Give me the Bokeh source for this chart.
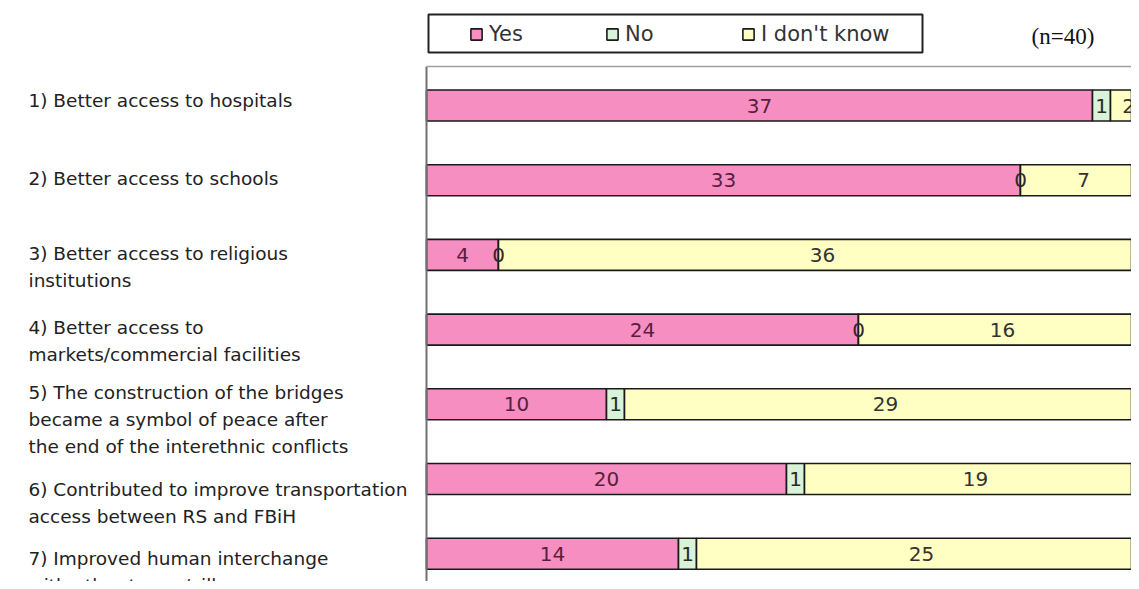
from bokeh.plotting import figure
from bokeh.models import Range1d, ColumnDataSource, Label, Legend, LegendItem
from bokeh.embed import file_html
from bokeh.resources import INLINE
from bokeh.core.properties import value

# ---------------- data ----------------
categories = [
    "1) Better access to hospitals",
    "2) Better access to schools",
    "3) Better access to religious\ninstitutions",
    "4) Better access to\nmarkets/commercial facilities",
    "5) The construction of the bridges\nbecame a symbol of peace after\nthe end of the interethnic conflicts",
    "6) Contributed to improve transportation\naccess between RS and FBiH",
    "7) Improved human interchange\nwith other towns/villages",
]
yes = [37, 33, 4, 24, 10, 20, 14]
no = [1, 0, 0, 0, 1, 1, 1]
dont_know = [2, 7, 36, 16, 29, 19, 25]
series_names = ["Yes", "No", "I don't know"]
sample_note = "(n=40)"

# ---------------- style / layout ----------------
colors = ["#F78EC2", "#D8F3D8", "#FFFFC4"]
text_colors = ["#5A1E3C", "#2A2A2A", "#333333"]
W, H = 1131, 581
AREA_LEFT, AREA_TOP = 426, 66     # px position of the plot area (bars region)
PX_X = 18.0                       # pixels per answer
PX_Y = 74.7                       # pixels per category row
FIRST_ROW = 105                   # px of first bar centre
label_first_line_offset = [-5, -2, -1, -2, -12, 10, 5]  # px, per category label
label_line_gap = 27
label_left_px = 28
LEGEND_BOX = (428, 922, 14, 52)   # left, right, top, bottom in px

x_start = -AREA_LEFT / PX_X
x_end = (W - AREA_LEFT) / PX_X
y_top = 1 - FIRST_ROW / PX_Y
y_bottom = y_top + H / PX_Y
area_top = y_top + AREA_TOP / PX_Y


def px_to_x(px):
    return x_start + px / PX_X


def px_to_y(py):
    return y_top + py / PX_Y


p = figure(width=W, height=H, output_backend="svg", toolbar_location=None,
           x_range=Range1d(x_start, x_end), y_range=Range1d(y_bottom, y_top),
           x_axis_location=None, y_axis_location=None,
           min_border=0)
p.outline_line_color = None
p.grid.visible = False
p.background_fill_color = "white"
p.border_fill_color = "white"

rows = list(range(1, len(categories) + 1))
series = [yes, no, dont_know]
renderers = []
text_sources = []
starts = [0] * len(rows)
for name, vals, col in zip(series_names, series, colors):
    lefts = starts
    rights = [a + b for a, b in zip(lefts, vals)]
    src = ColumnDataSource(dict(y=rows, left=lefts, right=rights,
                                cx=[(a + b) / 2 for a, b in zip(lefts, rights)],
                                txt=[str(v) for v in vals]))
    r = p.hbar(y="y", left="left", right="right", height=0.415, source=src,
               fill_color=col, line_color="#1A1A1A", line_width=1.6)
    renderers.append(r)
    text_sources.append(src)
    starts = rights

for src, tcol in zip(text_sources, text_colors):
    p.text(x="cx", y="y", text="txt", source=src, text_align="center",
           text_baseline="middle", text_font=value("DejaVu Sans"),
           text_font_size="20px", text_color=tcol)

# plot-area borders (left and top)
p.segment(x0=[0], y0=[area_top], x1=[0], y1=[y_bottom], line_color="#707070", line_width=2)
p.segment(x0=[0], y0=[area_top], x1=[x_end], y1=[area_top], line_color="#A0A0A0", line_width=1.5)

# category labels
lx = px_to_x(label_left_px)
for i, (cat, off) in enumerate(zip(categories, label_first_line_offset)):
    for k, line in enumerate(cat.split("\n")):
        p.add_layout(Label(x=lx, y=rows[i] + (off + k * label_line_gap) / PX_Y, text=line,
                           text_font="DejaVu Sans", text_font_size="18.5px",
                           text_color="#222222", text_align="left", text_baseline="middle"))

# legend frame
bl, br, bt, bb = LEGEND_BOX
p.quad(left=[px_to_x(bl)], right=[px_to_x(br)], top=[px_to_y(bt)], bottom=[px_to_y(bb)],
       fill_color="white", line_color="#222222", line_width=2)

# legend
legend = Legend(items=[LegendItem(label=n, renderers=[r]) for n, r in zip(series_names, renderers)],
                orientation="horizontal", location=(469, H - 46),
                border_line_color=None, background_fill_alpha=0,
                padding=8, spacing=0, margin=0, label_width=116, label_standoff=6,
                glyph_width=14, glyph_height=14,
                label_text_font="DejaVu Sans", label_text_font_size="21px",
                label_text_color="#333333")
p.add_layout(legend)

# sample size note
p.add_layout(Label(x=px_to_x(1031), y=px_to_y(36), text=sample_note,
                   text_font="Liberation Serif", text_font_size="23px",
                   text_color="#111111", text_align="left", text_baseline="middle"))

open("out.html", "w").write(file_html(p, INLINE))
